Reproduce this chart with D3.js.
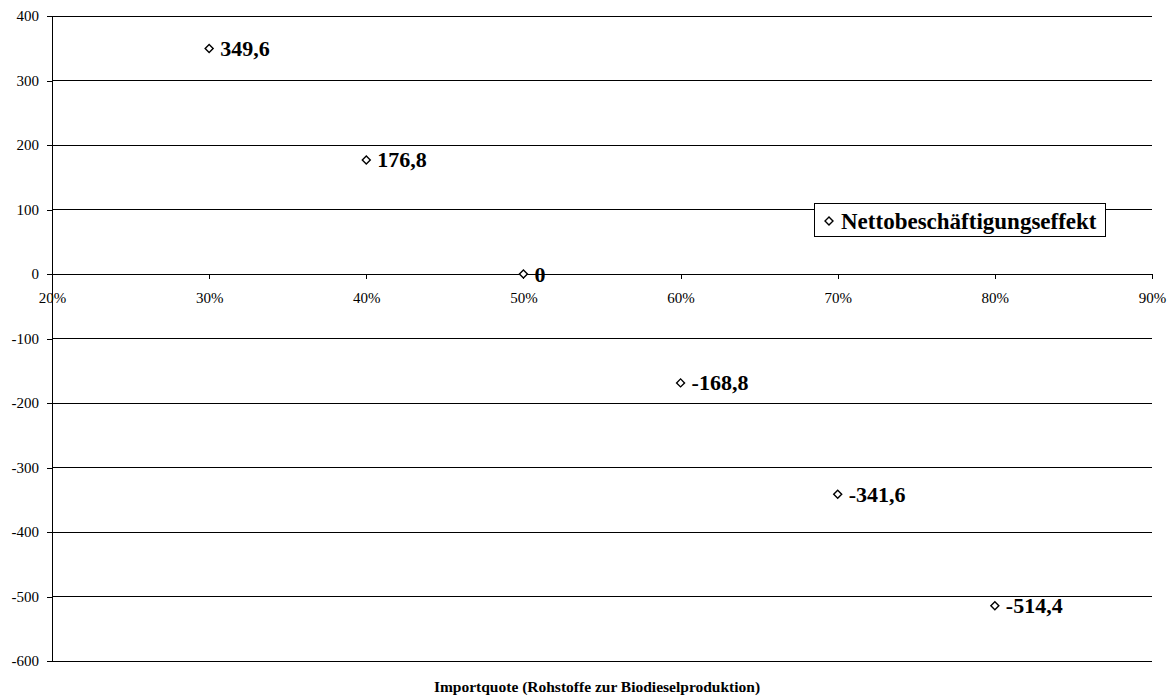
<!DOCTYPE html>
<html><head><meta charset="utf-8">
<script src="https://cdn.jsdelivr.net/npm/d3@7"></script>
<style>body{margin:0;background:#fff}svg{display:block}</style>
</head><body><svg id="c" width="1169" height="696"></svg>
<script>
const xValues = [30, 40, 50, 60, 70, 80];
const yValues = [349.6, 176.8, 0, -168.8, -341.6, -514.4];
const yLabels = ["349,6", "176,8", "0", "-168,8", "-341,6", "-514,4"];
const xTicks = [20, 30, 40, 50, 60, 70, 80, 90];
const yTicks = [400, 300, 200, 100, 0, -100, -200, -300, -400, -500, -600];
const seriesName = "Nettobeschäftigungseffekt";
const xTitle = "Importquote (Rohstoffe zur Biodieselproduktion)";

const svg = d3.select("#c");
const L = 52, R = 1152, T = 16, B = 661;
const x = d3.scaleLinear().domain([20, 90]).range([L, R]);
const y = d3.scaleLinear().domain([-600, 400]).range([B, T]);
const font = "'Liberation Serif','Times New Roman',serif";

// gridlines
svg.append("g").selectAll("line").data(yTicks).join("line")
  .attr("x1", L).attr("x2", R).attr("y1", d => y(d)).attr("y2", d => y(d))
  .attr("stroke", "#000").attr("stroke-width", 1).attr("shape-rendering", "crispEdges");

// y axis
const yAxis = svg.append("g").attr("transform", `translate(${L},0)`)
  .call(d3.axisLeft(y).tickValues(yTicks).tickSize(5).tickPadding(8).tickFormat(d => String(d)));
yAxis.select(".domain").attr("d", `M0,${T}V${B}`).attr("shape-rendering", "crispEdges");
yAxis.selectAll("text").attr("font-family", font).attr("font-size", 15).attr("fill", "#000");
yAxis.selectAll("line").attr("shape-rendering", "crispEdges");

// x axis at y=0
const xAxis = svg.append("g").attr("transform", `translate(0,${y(0)})`)
  .call(d3.axisBottom(x).tickValues(xTicks).tickSize(5).tickSizeOuter(0).tickPadding(13).tickFormat(d => d + "%"));
xAxis.select(".domain").attr("shape-rendering", "crispEdges");
xAxis.selectAll("text").attr("font-family", font).attr("font-size", 15).attr("fill", "#000");
xAxis.selectAll("line").attr("shape-rendering", "crispEdges");

// points
const pts = svg.append("g").selectAll("g").data(xValues.map((v, i) => ({x: v, y: yValues[i], l: yLabels[i]}))).join("g")
  .attr("transform", d => `translate(${x(d.x)},${y(d.y)})`);
pts.append("path").attr("d", d3.symbol().type(d3.symbolSquare).size(32)).attr("transform", "rotate(45)")
  .attr("fill", "#fff").attr("stroke", "#000").attr("stroke-width", 1.4);
pts.append("text").attr("x", 11).attr("y", 7.5).text(d => d.l)
  .attr("font-family", font).attr("font-size", 22).attr("font-weight", "bold").attr("fill", "#000");

// legend
const lg = svg.append("g");
lg.append("rect").attr("x", 814.5).attr("y", 203.5).attr("width", 291).attr("height", 33)
  .attr("fill", "#fff").attr("stroke", "#000").attr("stroke-width", 1);
lg.append("path").attr("d", d3.symbol().type(d3.symbolSquare).size(32))
  .attr("transform", `translate(829,221) rotate(45)`).attr("fill", "#fff").attr("stroke", "#000").attr("stroke-width", 1.4);
lg.append("text").attr("x", 841).attr("y", 229).text(seriesName)
  .attr("font-family", font).attr("font-size", 23).attr("font-weight", "bold").attr("fill", "#000");

// axis title
svg.append("text").attr("x", 597).attr("y", 692).attr("text-anchor", "middle").text(xTitle)
  .attr("font-family", font).attr("font-size", 15.5).attr("font-weight", "bold").attr("fill", "#000");
</script></body></html>
